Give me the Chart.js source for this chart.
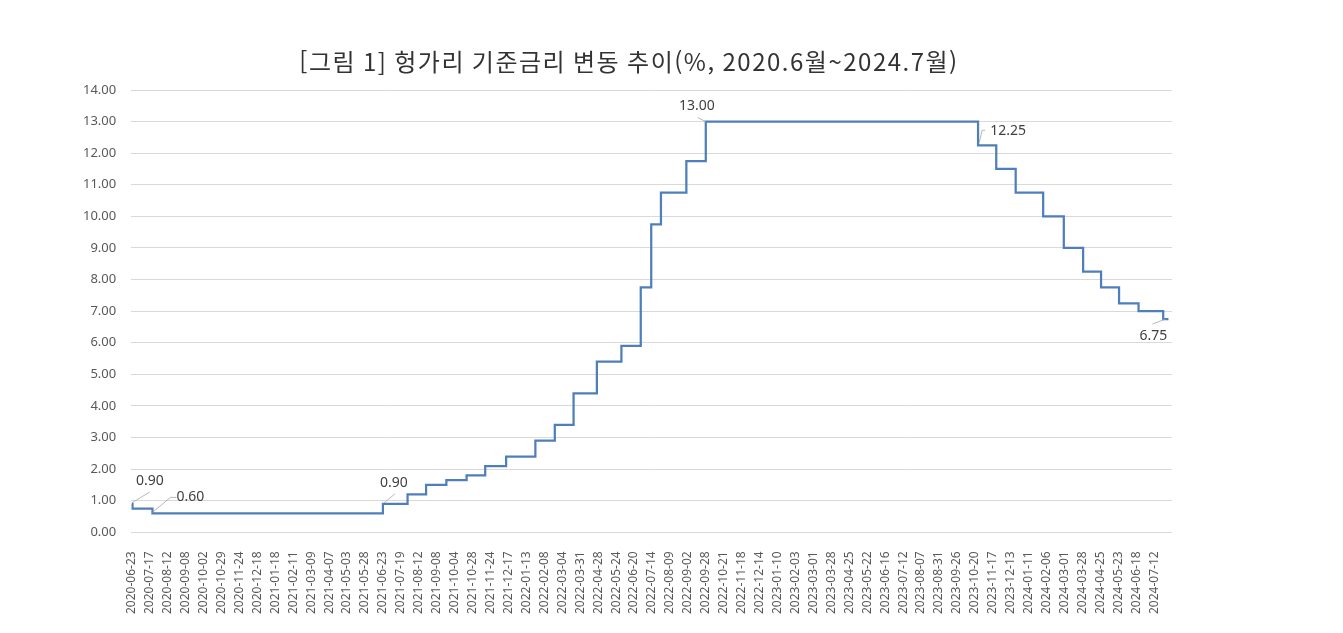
<!DOCTYPE html>
<html lang="ko">
<head>
<meta charset="utf-8">
<title>헝가리 기준금리 변동 추이</title>
<script src="https://cdn.jsdelivr.net/npm/chart.js@4.4.1/dist/chart.umd.min.js"></script>
<style>
  html, body { margin: 0; padding: 0; background: #fff; }
  #chart { display: block; }
</style>
</head>
<body>
<canvas id="chart" width="1343" height="633"></canvas>
<script>
const chartTitle = '[그림 1] 헝가리 기준금리 변동 추이(%, 2020.6월~2024.7월)';

// dates printed on the x axis (excel category axis, one label every 18 rows)
const tickDates = [
    '2020-06-23', '2020-07-17', '2020-08-12', '2020-09-08', '2020-10-02', '2020-10-29',
    '2020-11-24', '2020-12-18', '2021-01-18', '2021-02-11', '2021-03-09', '2021-04-07',
    '2021-05-03', '2021-05-28', '2021-06-23', '2021-07-19', '2021-08-12', '2021-09-08',
    '2021-10-04', '2021-10-28', '2021-11-24', '2021-12-17', '2022-01-13', '2022-02-08',
    '2022-03-04', '2022-03-31', '2022-04-28', '2022-05-24', '2022-06-20', '2022-07-14',
    '2022-08-09', '2022-09-02', '2022-09-28', '2022-10-21', '2022-11-18', '2022-12-14',
    '2023-01-10', '2023-02-03', '2023-03-01', '2023-03-28', '2023-04-25', '2023-05-22',
    '2023-06-16', '2023-07-12', '2023-08-07', '2023-08-31', '2023-09-26', '2023-10-20',
    '2023-11-17', '2023-12-13', '2024-01-11', '2024-02-06', '2024-03-01', '2024-03-28',
    '2024-04-25', '2024-05-23', '2024-06-18', '2024-07-12'
];

// days on which the base rate changed, and the rate from that day on (%)
const rateDates = [
    '2020-06-23', '2020-06-24', '2020-07-21', '2021-06-23', '2021-07-28', '2021-08-23',
    '2021-09-22', '2021-10-20', '2021-11-16', '2021-12-14', '2022-01-26', '2022-02-22',
    '2022-03-21', '2022-04-26', '2022-06-01', '2022-06-29', '2022-07-13', '2022-07-27',
    '2022-08-31', '2022-09-28', '2023-10-25', '2023-11-22', '2023-12-21', '2024-02-01',
    '2024-02-29', '2024-03-29', '2024-04-26', '2024-05-24', '2024-06-21', '2024-07-24',
    '2024-07-31'
];
const rateValues = [
    0.90, 0.75, 0.60, 0.90, 1.20, 1.50,
    1.65, 1.80, 2.10, 2.40, 2.90, 3.40,
    4.40, 5.40, 5.90, 7.75, 9.75, 10.75,
    11.75, 13.00, 12.25, 11.50, 10.75, 10.00,
    9.00, 8.25, 7.75, 7.25, 7.00, 6.75,
    6.75
];

// points that carry a value label
const labelledPoints = [0, 2, 3, 19, 20, 30];

// callout placement for each labelled point, offsets from the point in px
const calloutStyle = {
    0:  { dx: 18,  dy: -23, leader: [[0, -1], [18, -12]] },
    2:  { dx: 38,  dy: -16, leader: [[0, -1], [18, -16], [24, -16]] },
    3:  { dx: 11,  dy: -21, leader: [[1, -1], [12, -10]] },
    19: { dx: -9,  dy: -16, leader: [[0, 0], [-8, -4]] },
    20: { dx: 30,  dy: -14, leader: [[1, -2], [4, -15], [7, -15]] },
    30: { dx: -15, dy: 17,  leader: [[-3, 0], [-16, 5]] }
};

// map a date onto the category axis: tick i sits at position i
const DAY = 86400000;
const tickDays = tickDates.map(d => Date.parse(d) / DAY);
function datePos(dateStr) {
    const d = Date.parse(dateStr) / DAY;
    let i = 0;
    while (i < tickDays.length - 2 && d >= tickDays[i + 1]) i++;
    return i + (d - tickDays[i]) / (tickDays[i + 1] - tickDays[i]);
}

const points = rateDates.map((d, i) => ({ x: datePos(d), y: rateValues[i] }));

const textFont = '"Noto Sans", "Liberation Sans", sans-serif';

const calloutPlugin = {
    id: 'callouts',
    afterDatasetsDraw(chart) {
        const ctx = chart.ctx;
        const meta = chart.getDatasetMeta(0);
        ctx.save();
        labelledPoints.forEach(idx => {
            const el = meta.data[idx];
            const st = calloutStyle[idx];
            ctx.strokeStyle = '#a6a6a6';
            ctx.lineWidth = 0.8;
            ctx.beginPath();
            st.leader.forEach(([lx, ly], k) => {
                if (k === 0) ctx.moveTo(el.x + lx, el.y + ly);
                else ctx.lineTo(el.x + lx, el.y + ly);
            });
            ctx.stroke();
            ctx.fillStyle = '#404040';
            ctx.font = '14px ' + textFont;
            ctx.textAlign = 'center';
            ctx.textBaseline = 'middle';
            ctx.fillText(rateValues[idx].toFixed(2), el.x + st.dx, el.y + st.dy);
        });
        ctx.restore();
    }
};

const titlePlugin = {
    id: 'pageTitle',
    afterDraw(chart) {
        const ctx = chart.ctx;
        ctx.save();
        ctx.fillStyle = '#333333';
        ctx.font = '24px "Noto Sans CJK KR", sans-serif';
        ctx.letterSpacing = '1.5px';
        ctx.textAlign = 'center';
        ctx.textBaseline = 'middle';
        ctx.fillText(chartTitle, 629, 62);
        ctx.restore();
    }
};

new Chart(document.getElementById('chart'), {
    type: 'line',
    data: {
        datasets: [{
            label: '기준금리',
            data: points,
            borderColor: '#4f7fba',
            borderWidth: 2.25,
            pointRadius: 0,
            stepped: 'before',
            fill: false
        }]
    },
    options: {
        responsive: false,
        animation: false,
        layout: { padding: { left: 68, right: 171, top: 90, bottom: 8 } },
        plugins: {
            legend: { display: false },
            title: { display: false },
            tooltip: { enabled: false }
        },
        scales: {
            x: {
                type: 'linear',
                min: -0.03,
                max: 57.99,
                afterBuildTicks: scale => {
                    scale.ticks = tickDates.map((_, i) => ({ value: i }));
                },
                grid: { display: false },
                border: { display: false },
                ticks: {
                    autoSkip: false,
                    minRotation: 90,
                    maxRotation: 90,
                    padding: 11,
                    color: '#595959',
                    font: { size: 12, family: textFont },
                    callback: value => tickDates[value]
                }
            },
            y: {
                min: 0,
                max: 14,
                grid: { color: '#d9d9d9', lineWidth: 1, drawTicks: false },
                border: { display: false },
                ticks: {
                    stepSize: 1,
                    padding: 15,
                    color: '#595959',
                    font: { size: 13, family: textFont },
                    callback: value => value.toFixed(2)
                }
            }
        }
    },
    plugins: [calloutPlugin, titlePlugin]
});
</script>
</body>
</html>
